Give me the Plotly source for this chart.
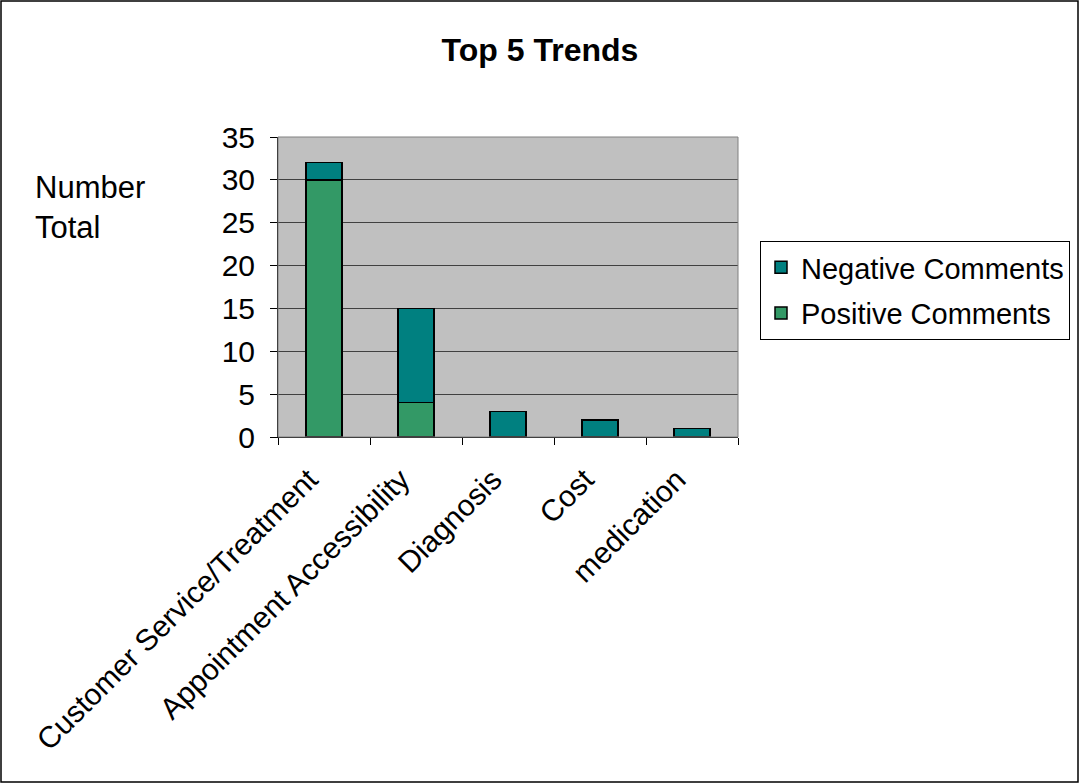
import plotly.graph_objects as go

categories = ["Customer Service/Treatment", "Appointment Accessibility", "Diagnosis", "Cost", "medication"]
positive = [30, 4, 0, 0, 0]
negative = [2, 11, 3, 2, 1]
y_ticks = [0, 5, 10, 15, 20, 25, 30, 35]

L, R, T, B = 278, 738, 137, 437
W, H = 1080, 784
pw, ph = R - L, B - T

font = "Liberation Sans, Arial, sans-serif"
FS = 30

fig = go.Figure()
fig.add_trace(go.Bar(x=categories, y=positive, name="Positive Comments", legendgroup="p",
                     legendrank=2,
                     marker=dict(color="#339966", line=dict(color="black", width=1.5))))
fig.add_trace(go.Bar(x=categories, y=negative, name="Negative Comments", legendgroup="n",
                     legendrank=1,
                     marker=dict(color="#008080", line=dict(color="black", width=1.5))))

fig.update_layout(
    width=W, height=H,
    barmode="stack", bargap=0.61,
    margin=dict(l=L, r=W - R, t=T, b=H - B, autoexpand=False),
    paper_bgcolor="white", plot_bgcolor="#C0C0C0",
    font=dict(family=font, size=FS, color="black"),
    title=dict(text="<b>Top 5 Trends</b>", x=0.5, xref="container", xanchor="center",
               y=1 - 50 / H, yref="container", yanchor="middle",
               font=dict(size=32, family=font)),
    legend=dict(x=(760 - L) / pw, y=(B - 241) / ph, xanchor="left", yanchor="top",
                bordercolor="black", borderwidth=1, bgcolor="white",
                font=dict(size=29, family=font), traceorder="grouped",
                tracegroupgap=5),
    showlegend=True,
)
fig.update_xaxes(showline=True, linecolor="black", linewidth=1, mirror=False,
                 ticks="outside", ticklen=7, tickcolor="black", tickson="boundaries",
                 tickangle=-45, showgrid=False, tickfont=dict(size=FS),
                 ticklabelstandoff=12, ticklabelshift=-15)
fig.update_yaxes(range=[0, 35], tickvals=y_ticks, showline=True, linecolor="black",
                 linewidth=1, ticks="outside", ticklen=7, tickcolor="black",
                 showgrid=True, gridcolor="#404040", gridwidth=1, zeroline=False,
                 tickfont=dict(size=FS), ticklabelstandoff=9)

# plot-area frame (top and right edges)
fig.add_shape(type="rect", xref="paper", yref="paper", x0=0, x1=1, y0=0, y1=1,
              line=dict(color="#808080", width=1), layer="above")
# y title
fig.add_annotation(text="Number<br>Total", xref="paper", yref="paper",
                   x=(33 - L) / pw, y=(B - 168) / ph, xanchor="left", yanchor="top",
                   align="left", showarrow=False, font=dict(size=31, family=font))
# outer chart border
fig.add_shape(type="rect", xref="paper", yref="paper",
              x0=(1 - L) / pw, x1=(1078 - L) / pw, y0=(B - 782) / ph, y1=(B - 1) / ph,
              line=dict(color="black", width=1.5))

fig.write_html("out.html")
